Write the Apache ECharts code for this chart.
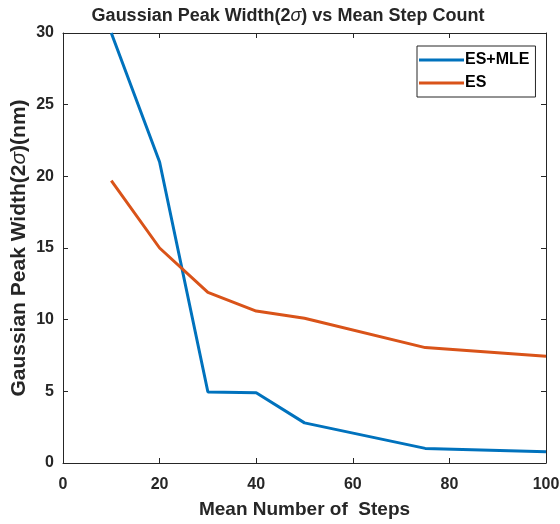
<!DOCTYPE html>
<html>
<head>
<meta charset="utf-8">
<script src="https://cdn.jsdelivr.net/npm/echarts@6/dist/echarts.min.js"></script>
<style>
  html, body { margin: 0; padding: 0; background: #fff; }
  #chart { width: 560px; height: 524px; }
</style>
</head>
<body>
<div id="chart"></div>
<script>
// Mean number of steps and fitted peak widths (nm)
const steps = [10, 20, 30, 40, 50, 75, 100];
const esMle = [30.0, 21.0, 4.95, 4.9, 2.8, 1.02, 0.78];
const esOnly = [19.7, 15.0, 11.9, 10.6, 10.1, 8.05, 7.45];
const xTicks = [0, 20, 40, 60, 80, 100];
const yTicks = [0, 5, 10, 15, 20, 25, 30];

const font = 'Liberation Sans, Arial, sans-serif';
const textColor = '#262626';
const axisColor = '#262626';

const chart = echarts.init(document.getElementById('chart'), null, { renderer: 'canvas' });

function pairs(xs, ys) { return xs.map((x, i) => [x, ys[i]]); }

// Box-style axes: ticks point inward on all four sides
const axisLine = { show: true, onZero: false, lineStyle: { color: axisColor, width: 1 } };
const axisTick = { show: true, inside: true, length: 5, lineStyle: { color: axisColor } };
const sigma = size => ({ s: { fontFamily: font, fontSize: size, fontStyle: 'italic', fontWeight: 'normal', color: textColor } });

chart.setOption({
  animation: false,
  backgroundColor: '#fff',
  title: {
    text: 'Gaussian Peak Width(2{s|σ}) vs Mean Step Count',
    left: 288, top: 7, textAlign: 'center', padding: 0,
    textStyle: { fontFamily: font, fontSize: 18, fontWeight: 'bold', color: textColor, rich: sigma(18) }
  },
  grid: { left: 63, right: 14, top: 33, bottom: 61, outerBoundsMode: 'none', containLabel: false },
  legend: {
    left: 417, top: 46, orient: 'vertical',
    itemWidth: 45, itemHeight: 3, itemGap: 7,
    icon: 'rect',
    borderColor: '#262626', borderWidth: 1, padding: [6, 6, 6, 2],
    backgroundColor: '#fff',
    textStyle: { fontFamily: font, fontSize: 16, fontWeight: 'bold', color: '#000', padding: [0, 0, 0, -4] },
    data: ['ES+MLE', 'ES']
  },
  xAxis: [{
    type: 'value', min: 0, max: 100, interval: 20,
    name: 'Mean Number of  Steps', nameLocation: 'middle', nameGap: 37, nameMoveOverlap: false,
    nameTextStyle: { fontFamily: font, fontSize: 19, fontWeight: 'bold', color: textColor },
    axisLine, axisTick, splitLine: { show: false },
    axisLabel: {
      fontFamily: font, fontSize: 16, fontWeight: 'bold', color: textColor, margin: 14,
      formatter: v => xTicks.includes(v) ? String(v) : ''
    }
  }, {
    type: 'value', min: 0, max: 100, interval: 20, position: 'top',
    axisLine, axisTick, axisLabel: { show: false }, splitLine: { show: false }
  }],
  yAxis: [{
    type: 'value', min: 0, max: 30, interval: 5,
    name: 'Gaussian Peak Width(2{s|σ})(nm)', nameLocation: 'middle', nameGap: 33, nameMoveOverlap: false,
    nameTextStyle: { fontFamily: font, fontSize: 21, fontWeight: 'bold', color: textColor, rich: sigma(21) },
    axisLine, axisTick, splitLine: { show: false },
    axisLabel: {
      fontFamily: font, fontSize: 16, fontWeight: 'bold', color: textColor, margin: 9,
      formatter: v => yTicks.includes(v) ? String(v) : ''
    }
  }, {
    type: 'value', min: 0, max: 30, interval: 5, position: 'right',
    axisLine, axisTick, axisLabel: { show: false }, splitLine: { show: false }
  }],
  series: [{
    name: 'ES+MLE', type: 'line', data: pairs(steps, esMle),
    showSymbol: false, symbol: 'none', clip: true,
    lineStyle: { color: '#0072BD', width: 3 }, itemStyle: { color: '#0072BD' }
  }, {
    name: 'ES', type: 'line', data: pairs(steps, esOnly),
    showSymbol: false, symbol: 'none', clip: true,
    lineStyle: { color: '#D95319', width: 3 }, itemStyle: { color: '#D95319' }
  }]
});
</script>
</body>
</html>
